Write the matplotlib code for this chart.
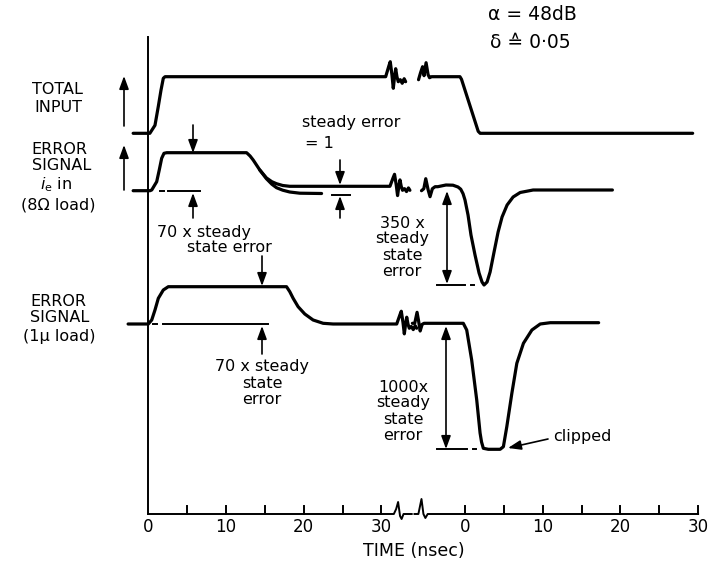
import numpy as np
import matplotlib.pyplot as plt

# ---- data (time in ns, level in drawing units above each trace's baseline) ----
ticks_ns = [0, 5, 10, 15, 20, 25, 30]
tick_labels = ['0', '', '10', '', '20', '', '30']

# total input
tot_l_t = [-1.95, 0.2, 0.86, 1.29, 1.63, 1.93, 2.15, 30.55]
tot_l_v = [0, 0, 8, 27, 43, 55, 56.6, 56.6]
tot_r_t = [-4.3, -0.65, -0.45, 1.7, 1.95, 29.3]
tot_r_v = [56.6, 56.6, 54, 2, 0, 0]

# error signal, 8 ohm load (upper branch and the lower branch of the decay)
e8_l_t = [-1.95, 0.22, 0.44, 1.08, 1.41, 1.72, 2.02, 2.37, 12.65, 13.1, 13.5,
          14.35, 15.2, 15.9, 16.5, 17.3, 18.2, 31.1]
e8_l_v = [0, 0, 0.7, 9, 20.7, 32.4, 37.4, 38, 38, 34.7, 30.7,
          20.7, 12.8, 9, 7, 5.2, 4.4, 4.4]
e8_lo_t = [14.35, 15.2, 15.9, 16.5, 17.3, 18.2, 19.5, 22.3]
e8_lo_v = [20.7, 12, 6.5, 3, 0.5, -1.3, -2.5, -2.8]
e8_r_t = [-3.5, -2.45, -1.55, -0.9, -0.55, -0.25, 0, 0.39, 0.77, 1.29, 1.81, 2.19,
          2.45, 2.84, 3.23, 3.74, 4.26, 4.77, 5.42, 6.19, 7.1, 8.77, 18.97]
e8_r_v = [4, 5.7, 5.5, 3.7, 1.5, -3, -9.3, -24.3, -44.3, -64.3, -82.3, -91.3,
          -94.3, -91.3, -81.3, -61.3, -41.3, -26.3, -14.3, -6.3, -1.8, 0.7, 0.7]

# error signal, 1 micro load
e1_l_t = [-2.6, 0.0, 0.44, 0.86, 1.29, 1.93, 2.57, 17.79, 18.21, 18.64, 19.28,
          20.14, 21.21, 22.5, 23.78, 31.97]
e1_l_v = [0, 0, 4, 14, 25.7, 34, 37.3, 37.3, 32.3, 25.7, 17.3,
          10, 4, 0.7, 0, 0]
e1_r_t = [-4.77, -0.22, 0.22, 0.86, 1.51, 1.94, 2.13, 2.36, 3.0, 4.52, 4.94, 5.38,
          6.03, 6.67, 7.52, 8.61, 9.68, 10.97, 17.2]
e1_r_v = [0.7, 0.7, -6, -36, -76, -109, -118, -124.3, -125.3, -125.3, -122.7, -102.7,
          -69.3, -39.3, -19.3, -6, 0, 1.3, 1.3]

# break wiggles (time offset ns, level offset)
wig_out_dt = [0, 0.42, 0.59, 0.81, 0.98, 1.16, 1.29, 1.45, 1.62, 1.88, 2.13, 2.38, 2.57]
wig_out_dv = [0, 11, 15, 1.7, -11.6, 1, 8, 0, -5, -3, -6.6, -2, -5]
wig_up_dt = [0, 0.26, 0.52, 0.71, 0.97, 1.23, 1.42, 1.68]
wig_up_dv = [-3, 4, 10, 1, 14, 2, -1, 0]
wig_n_dt = [0, 0.3, 0.55, 0.85, 1.1, 1.4, 1.75, 2.1]
wig_n_dv = [-4, -2, 8, -3, -10, -2, 0, 0]
wig_s_dt = [0, 0.3, 0.6, 0.8, 1.0, 1.25, 1.5, 2.0]
wig_s_dv = [0, 0, 10, 2, -7, -1, 0, 0]
axis_out_dt = [0, 0.3, 0.55, 0.8, 1.0, 1.25, 2.3]
axis_out_dv = [0, 5, 12, -2, -5, 0, 0]
axis_in_dt = [0, 0.5, 0.9, 1.15, 1.4, 1.7, 2.0]
axis_in_dv = [0, 0, 15, 0, -4, 0, 0]

# ---- layout ----
PX_PER_NS = 7.77
X0_PX, AXIS_PX = 148.3, 514
RIGHT0 = (465 - X0_PX) / PX_PER_NS        # where the second "0" sits
BASE_TOT, BASE_E8, BASE_E1 = 514 - 133.3, 514 - 190.7, 514 - 324


def px(x, y):
    return (x - X0_PX) / PX_PER_NS, AXIS_PX - y


def left_part(t, v, dt, dv, amp=1.0):
    tt = list(t) + [t[-1] + d for d in dt[1:]]
    vv = list(v) + [v[-1] + amp * d for d in dv[1:]]
    return np.array(tt), np.array(vv)


def right_part(t, v, dt, dv, amp=1.0):
    tt = [t[0] - (dt[-1] - d) for d in dt[:-1]] + list(t)
    vv = [v[0] + amp * d for d in dv[:-1]] + list(v)
    return np.array(tt) + RIGHT0, np.array(vv)


plt.rcParams['font.family'] = ['DejaVu Sans']
fig = plt.figure(figsize=(7.13, 5.62), dpi=100)
ax = fig.add_axes([0, 0, 1, 1])
ax.set_xlim(-X0_PX / PX_PER_NS, (713 - X0_PX) / PX_PER_NS)
ax.set_ylim(AXIS_PX - 562, AXIS_PX)
ax.axis('off')

tr = dict(color='black', lw=2.3, solid_capstyle='round', solid_joinstyle='round')

# traces
t, v = left_part(tot_l_t, tot_l_v, wig_out_dt, wig_out_dv)
ax.plot(t, v + BASE_TOT, **tr)
t, v = right_part(tot_r_t, tot_r_v, wig_up_dt, wig_up_dv)
ax.plot(t, v + BASE_TOT, **tr)

t, v = left_part(e8_l_t, e8_l_v, wig_out_dt, wig_out_dv, 0.8)
ax.plot(t, v + BASE_E8, **tr)
ax.plot(e8_lo_t, np.array(e8_lo_v) + BASE_E8, **tr)
t, v = right_part(e8_r_t, e8_r_v, wig_n_dt, wig_n_dv)
ax.plot(t, v + BASE_E8, **tr)

t, v = left_part(e1_l_t, e1_l_v, wig_out_dt, wig_out_dv, 0.85)
ax.plot(t, v + BASE_E1, **tr)
t, v = right_part(e1_r_t, e1_r_v, wig_s_dt, wig_s_dv, 1.1)
ax.plot(t, v + BASE_E1, **tr)

# time axis with break
t, v = left_part([0, 31.6], [0, 0], axis_out_dt, axis_out_dv)
ax.plot(t, v, color='black', lw=1.4)
t, v = right_part([-4.5, 30], [0, 0], axis_in_dt, axis_in_dv)
ax.plot(t, v, color='black', lw=1.4)
ax.plot([0, 0], [0, AXIS_PX - 37], color='black', lw=1.4)
for off in (0, RIGHT0):
    for tk, lab in zip(ticks_ns, tick_labels):
        if not (off == 0 and tk == 0):
            ax.plot([tk + off, tk + off], [0, 8], color='black', lw=1.4)
        if lab:
            ax.text(tk + off, -13, lab, ha='center', va='center', fontsize=12)
ax.text(*px(414, 551), 'TIME (nsec)', ha='center', va='center', fontsize=12.5)

# left labels
fs = 11.5
for (x, y), s in [((57, 89), 'TOTAL'), ((58, 107), 'INPUT'),
                  ((59, 150), 'ERROR'), ((62, 166), 'SIGNAL'),
                  ((56, 185), r'$\mathit{i}_{\mathrm{e}}$ in'), ((58, 205), '(8Ω load)'),
                  ((58, 302), 'ERROR'), ((60, 318), 'SIGNAL'), ((59, 337), '(1μ load)')]:
    ax.text(*px(x, y), s, ha='center', va='center', fontsize=fs)

arr = dict(arrowstyle='-|>,head_length=0.6,head_width=0.22', color='black', lw=1.2,
           shrinkA=0, shrinkB=0, mutation_scale=13)
darr = dict(arr, arrowstyle='<|-|>,head_length=0.6,head_width=0.22')


def arrow(p0, p1, props=arr):
    ax.annotate('', xy=px(*p1), xytext=px(*p0), arrowprops=props)


def seg(x0, x1, y, lw=1.4):
    a, b = px(x0, y), px(x1, y)
    ax.plot([a[0], b[0]], [a[1], b[1]], color='black', lw=lw)


arrow((124, 126), (124, 76))
arrow((124, 190), (124, 145))

# 70x on 8 ohm trace
arrow((193, 125), (193, 153))
arrow((193, 218), (193, 193))
seg(160, 163.5, 190.7)
seg(168, 200, 190.7)
ax.text(*px(157, 232), '70 x steady', ha='left', va='center', fontsize=fs)
ax.text(*px(187, 247), 'state error', ha='left', va='center', fontsize=fs)

# steady error = 1
ax.text(*px(302, 123), 'steady error', ha='left', va='center', fontsize=fs)
ax.text(*px(305, 143), '= 1', ha='left', va='center', fontsize=fs)
arrow((340, 160), (340, 185))
arrow((340, 218), (340, 196))
seg(331.7, 350, 195)

# 70x on 1 micro trace
arrow((262, 256), (262, 286))
arrow((262, 354), (262, 326))
seg(153, 157, 324)
seg(163, 268, 324)
for y, s in [(367, '70 x steady'), (383, 'state'), (399, 'error')]:
    ax.text(*px(262, y), s, ha='center', va='center', fontsize=fs)

# 350x
ax.annotate('', xy=px(447, 284), xytext=px(447, 191), arrowprops=darr)
seg(437, 465, 285)
seg(471, 474, 285)
for y, s in [(223, '350 x'), (239, 'steady'), (255, 'state'), (271, 'error')]:
    ax.text(*px(402, y), s, ha='center', va='center', fontsize=fs)

# 1000x
ax.annotate('', xy=px(446, 449), xytext=px(446, 326), arrowprops=darr)
seg(437, 467, 449)
seg(473, 476, 449)
for y, s in [(387, '1000x'), (403, 'steady'), (419, 'state'), (436, 'error')]:
    ax.text(*px(403, y), s, ha='center', va='center', fontsize=fs)
ax.text(*px(553, 437), 'clipped', ha='left', va='center', fontsize=fs)
arrow((548, 439), (508, 448))

# parameters
ax.text(*px(488, 15), 'α = 48dB', ha='left', va='center', fontsize=13.5)
ax.text(*px(490, 43), 'δ ≙ 0·05', ha='left', va='center', fontsize=13.5)

fig.savefig('out.png', dpi=100, facecolor='white')
